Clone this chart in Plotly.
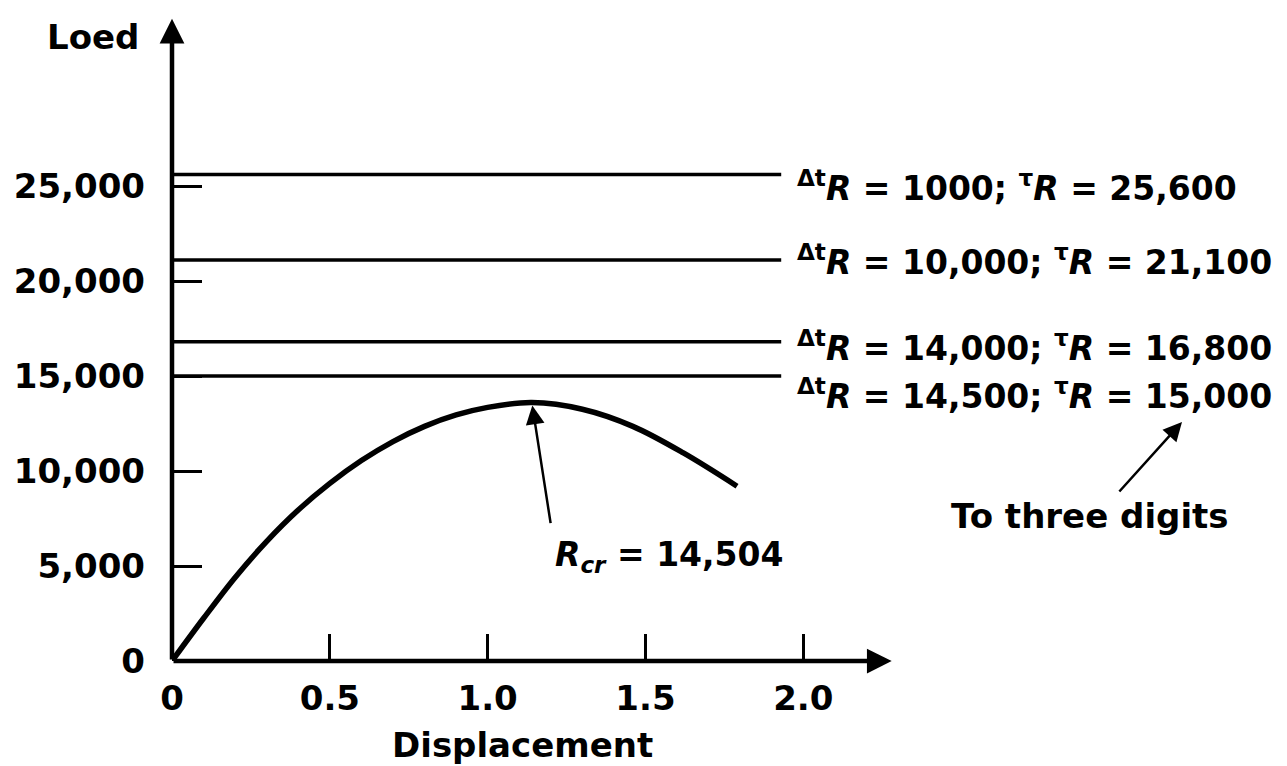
import plotly.graph_objects as go

# ---------------- data ----------------
disp = [0, 0.1, 0.2, 0.3, 0.4, 0.5, 0.6, 0.7, 0.8, 0.9, 1.0, 1.14, 1.3, 1.46, 1.62, 1.79]
load = [0, 2250, 4400, 6300, 7950, 9350, 10550, 11550, 12350, 12950, 13350, 13600, 13250, 12350, 10950, 9200]

level_values = [25600, 21100, 16800, 15000]
level_dt = ["1000", "10,000", "14,000", "14,500"]
level_tau = ["25,600", "21,100", "16,800", "15,000"]
level_end = 1.93

x_ticks = [0, 0.5, 1.0, 1.5, 2.0]
x_tick_labels = ["0", "0.5", "1.0", "1.5", "2.0"]
y_ticks = [0, 5000, 10000, 15000, 20000, 25000]
y_tick_labels = ["0", "5,000", "10,000", "15,000", "20,000", "25,000"]

r_cr = "14,504"
x_title = "Displacement"
y_title = "Loed"
note = "To three digits"

# ---------------- layout geometry (pixels) ----------------
W, H = 1287, 766
L, R_, T, B = 172, 389, 15, 105
PW, PH = W - L - R_, H - T - B


def px(p):
    return (p - L) / PW


def py(p):
    return (H - B - p) / PH


FONT = "DejaVu Sans"
tick_font = dict(family=FONT, size=34, color="black", weight="bold")
lab_font = dict(family=FONT, size=33, color="black", weight="bold")

fig = go.Figure()

for v in level_values:
    fig.add_trace(go.Scatter(x=[0, level_end], y=[v, v], mode="lines",
                             line=dict(color="black", width=3.5),
                             hoverinfo="skip", showlegend=False))

fig.add_trace(go.Scatter(x=disp, y=load, mode="lines",
                         line=dict(color="black", width=5.5, shape="spline"),
                         hoverinfo="skip", showlegend=False))

ann = []
# axes with arrows
ann.append(dict(x=2.28, y=0, ax=0, ay=0, xref="x", yref="y", axref="x", ayref="y",
                text="", showarrow=True, arrowhead=2, arrowwidth=4.5, arrowsize=1.1,
                arrowcolor="black"))
ann.append(dict(x=0, y=33800, ax=0, ay=0, xref="x", yref="y", axref="x", ayref="y",
                text="", showarrow=True, arrowhead=2, arrowwidth=4.5, arrowsize=1.1,
                arrowcolor="black"))

shifts = [-12, 0, -5, -18]
for v, dt, tau, s in zip(level_values, level_dt, level_tau, shifts):
    txt = f"<sup>Δt</sup><i>R</i> = {dt}; <sup>τ</sup><i>R</i> = {tau}"
    ann.append(dict(x=level_end, y=v, xref="x", yref="y", text=txt, showarrow=False,
                    xanchor="left", yanchor="middle", xshift=14, yshift=s, font=lab_font))

# R_cr label and arrow
ipk = load.index(max(load))
ann.append(dict(x=px(553), y=py(556), xref="paper", yref="paper",
                text=f"<i>R</i><sub><i>cr</i></sub> = {r_cr}", showarrow=False,
                xanchor="left", yanchor="middle", font=lab_font))
ann.append(dict(x=disp[ipk], y=load[ipk], xref="x", yref="y", ax=19, ay=122,
                text="", showarrow=True, arrowhead=2, arrowwidth=2.5, arrowsize=1.5,
                arrowcolor="black", standoff=3))

# note
ann.append(dict(x=px(1090), y=py(516), xref="paper", yref="paper", text=note,
                showarrow=False, xanchor="center", yanchor="middle",
                font=dict(family=FONT, size=34, color="black", weight="bold")))
ann.append(dict(x=px(1182), y=py(422), xref="paper", yref="paper", ax=-64, ay=71,
                text="", showarrow=True, arrowhead=2, arrowwidth=2.5, arrowsize=1.5,
                arrowcolor="black"))

# axis titles
ann.append(dict(x=px(93), y=py(37), xref="paper", yref="paper", text=y_title,
                showarrow=False, xanchor="center", yanchor="middle", font=tick_font))
ann.append(dict(x=px(522), y=py(745), xref="paper", yref="paper", text=x_title,
                showarrow=False, xanchor="center", yanchor="middle", font=tick_font))

axis_common = dict(showgrid=False, zeroline=False, showline=False, ticks="inside",
                   tickwidth=3, tickcolor="black", tickfont=tick_font)

fig.update_layout(
    width=W, height=H,
    margin=dict(l=L, r=R_, t=T, b=B, pad=0),
    plot_bgcolor="white", paper_bgcolor="white",
    showlegend=False,
    xaxis=dict(range=[0, 2.3], tickvals=x_ticks, ticktext=x_tick_labels, ticklen=27,
               ticklabelstandoff=14, **axis_common),
    yaxis=dict(range=[0, 34000], tickvals=y_ticks, ticktext=y_tick_labels, ticklen=30,
               ticklabelstandoff=26, **axis_common),
    annotations=ann,
)

fig.write_html("out.html", config={"displayModeBar": False},
               post_script="document.body.style.margin='0px';document.body.style.overflow='hidden';")
